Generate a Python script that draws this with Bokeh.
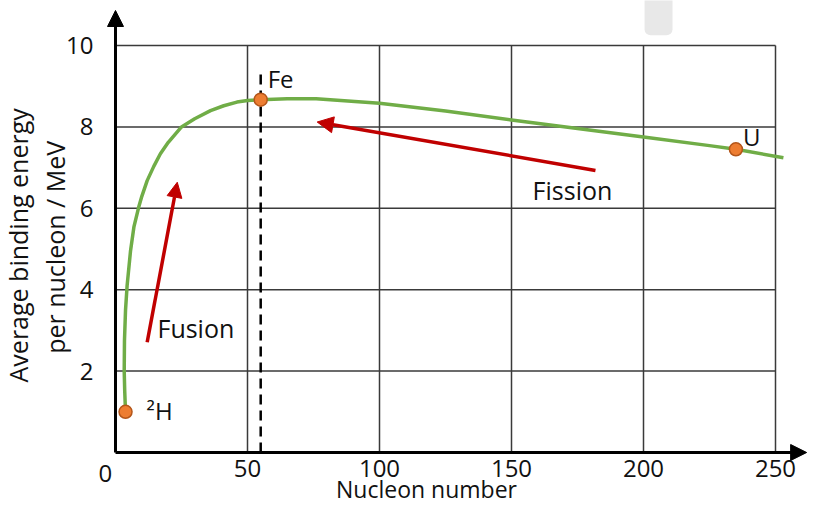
from math import pi
from bokeh.plotting import figure
from bokeh.models import FixedTicker, Label, Arrow, NormalHead, BoxAnnotation, Range1d
from bokeh.embed import file_html
from bokeh.resources import INLINE

# ---- data ----
mass_number = [3.8, 3.5, 3.3, 3.4, 3.8, 4.4, 5.7, 7.0, 8.8, 10.0, 12.0, 14.5, 17.0, 20.0, 25.0,
               30.0, 36.0, 41.0, 46.0, 50.0, 55.0, 65.0, 76.0, 100.0, 125.0, 150.0, 175.0,
               200.0, 225.0, 235.0, 253.0]
binding_energy = [0.99, 1.5, 2.0, 2.75, 3.5, 4.1, 4.96, 5.55, 6.03, 6.3, 6.68, 7.03, 7.34, 7.62, 8.0,
                  8.2, 8.4, 8.52, 8.61, 8.65, 8.67, 8.69, 8.69, 8.58, 8.39, 8.17, 7.96,
                  7.75, 7.54, 7.45, 7.24]

nuclide_names = ["\u00b2H", "Fe", "U"]
nuclide_A = [3.8, 55.0, 235.0]
nuclide_E = [1.0, 8.67, 7.45]

x_ticks = [50, 100, 150, 200, 250]
y_ticks = [2, 4, 6, 8, 10]

FONT = "Open Sans"
FS = "24px"
TXT = "#111111"
BASE_FIX = 9  # pixel correction for alphabetic baseline placement

W, H = 808, 504
X0_PX, XSCALE = 115, 2.64     # pixel of x=0, pixels per unit
Y0_PX, YSCALE = 452, 40.7     # pixel of y=0, pixels per unit

p = figure(width=W, height=H, output_backend="svg", toolbar_location=None,
           x_range=Range1d(-X0_PX / XSCALE, (W - X0_PX) / XSCALE),
           y_range=Range1d(-(H - Y0_PX) / YSCALE, Y0_PX / YSCALE),
           min_border_left=0, min_border_right=0, min_border_top=0, min_border_bottom=0)
p.outline_line_color = None
p.xgrid.visible = False
p.ygrid.visible = False
p.background_fill_color = "white"

for ax, ticks in ((p.xaxis, x_ticks), (p.yaxis, y_ticks)):
    ax.ticker = FixedTicker(ticks=ticks)
    ax.fixed_location = 0
    ax.axis_line_width = 3
    ax.axis_line_color = "black"
    ax.major_tick_line_color = None
    ax.minor_tick_line_color = None
    ax.major_label_text_font = FONT
    ax.major_label_text_font_size = FS
    ax.major_label_text_color = TXT
p.xaxis.bounds = (0, 259)
p.yaxis.bounds = (0, 10.7)
p.xaxis.major_label_standoff = 1
p.yaxis.major_label_standoff = 16

# grid box (limited to the tick extent)
p.segment(x0=x_ticks, y0=[0] * len(x_ticks), x1=x_ticks, y1=[y_ticks[-1]] * len(x_ticks),
          line_color="#3a3a3a", line_width=1.5)
p.segment(x0=[0] * len(y_ticks), y0=y_ticks, x1=[x_ticks[-1]] * len(y_ticks), y1=y_ticks,
          line_color="#3a3a3a", line_width=1.5)

# dashed line at iron
dash_top = 9.3
p.segment(x0=[nuclide_A[1]], y0=[0], x1=[nuclide_A[1]], y1=[dash_top],
          line_color="black", line_width=2.5, line_dash="10 6")

# curve
p.line(mass_number, binding_energy, line_color="#70ad47", line_width=3.5, line_join="round")

# points
p.scatter(nuclide_A, nuclide_E, size=13, fill_color="#ed7d31", line_color="#b4561a", line_width=1.5)

# nuclide labels (pixel offsets from the points)
offsets = [(21, -8), (7, 12), (7, 4)]
for name, a, e, (dx, dy) in zip(nuclide_names, nuclide_A, nuclide_E, offsets):
    p.add_layout(Label(x=a, y=e, x_offset=dx, y_offset=dy + BASE_FIX, text=name, text_font=FONT,
                       text_font_size=FS, text_color=TXT, text_baseline="alphabetic"))

# red process arrows
red = "#c00000"
p.add_layout(Arrow(x_start=12.0, y_start=2.71, x_end=23.4, y_end=6.64, line_color=red, line_width=3.5,
                   end=NormalHead(size=15, fill_color=red, line_color=red, line_width=1)))
p.add_layout(Arrow(x_start=181.8, y_start=6.93, x_end=76.4, y_end=8.12, line_color=red, line_width=3.5,
                   end=NormalHead(size=16, fill_color=red, line_color=red, line_width=1)))
p.add_layout(Label(x=15.9, y=2.83, y_offset=BASE_FIX, text="Fusion", text_font=FONT,
                   text_font_size="25px", text_color=TXT, text_baseline="alphabetic"))
p.add_layout(Label(x=158.0, y=6.22, y_offset=BASE_FIX, text="Fission", text_font=FONT,
                   text_font_size="25px", text_color=TXT, text_baseline="alphabetic"))

# axis arrowheads
p.add_layout(Arrow(x_start=0, y_start=10.5, x_end=0, y_end=10.86, line_color="black", line_width=3,
                   end=NormalHead(size=16, fill_color="black", line_color="black", line_width=1)))
p.add_layout(Arrow(x_start=255, y_start=0, x_end=261.8, y_end=0, line_color="black", line_width=3,
                   end=NormalHead(size=16, fill_color="black", line_color="black", line_width=1)))

# origin label and axis titles
p.add_layout(Label(x=-3.8, y=-0.737, y_offset=BASE_FIX, text="0", text_font=FONT, text_font_size=FS,
                   text_color=TXT, text_align="center", text_baseline="alphabetic"))
p.add_layout(Label(x=117.8, y=-1.11, y_offset=BASE_FIX, text="Nucleon number", text_font=FONT,
                   text_font_size="23px", text_color=TXT, text_align="center", text_baseline="alphabetic"))
p.add_layout(Label(x=-37.0, y=5.09, text="Average binding energy", angle=pi / 2, text_font=FONT,
                   text_font_size="25px", text_color=TXT, text_align="center", text_baseline="middle"))
p.add_layout(Label(x=-22.8, y=5.04, text="per nucleon / MeV", angle=pi / 2, text_font=FONT,
                   text_font_size="25px", text_color=TXT, text_align="center", text_baseline="middle"))

# light grey tab at the top
p.add_layout(BoxAnnotation(left=200.4, right=211.0, bottom=10.25, top=11.5, fill_color="#e8e8e8",
                           fill_alpha=1, line_color=None, border_radius=6))

open("out.html", "w").write(file_html(p, INLINE))
